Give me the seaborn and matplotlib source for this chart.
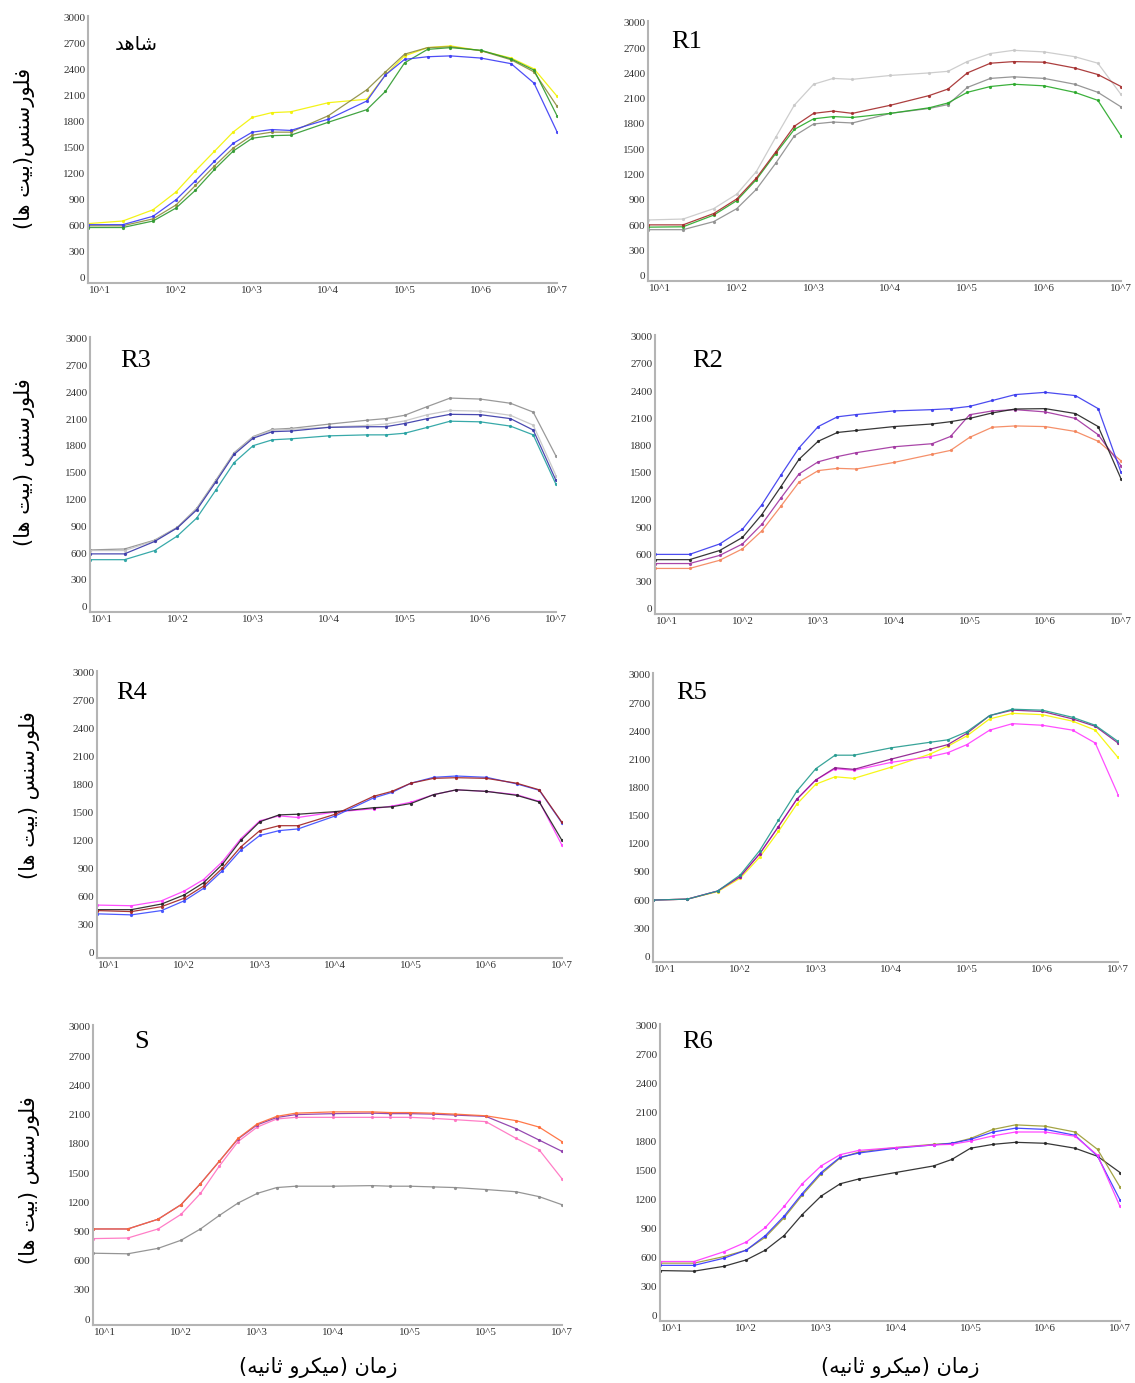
import numpy as np
import pandas as pd
import matplotlib
matplotlib.use("Agg")
import matplotlib.pyplot as plt
import seaborn as sns

# ---------------- data ----------------
time_us = [7, 20, 50, 100, 180, 320, 560, 1000, 1800, 3200, 10000, 32000, 56000,
           100000, 200000, 400000, 1000000, 2500000, 5000000, 10000000]

xtick_vals = [10, 100, 1000, 10000, 100000, 1000000, 10000000]
xtick_labels = ["10^1", "10^2", "10^3", "10^4", "10^5", "10^6", "10^7"]
xtick_labels_S = ["10^1", "10^2", "10^3", "10^4", "10^5", "10^5", "10^7"]
ytick_vals = [0, 300, 600, 900, 1200, 1500, 1800, 2100, 2400, 2700, 3000]

# شاهد
c_yellow = [625, 655, 785, 990, 1234, 1460, 1680, 1850, 1905, 1915, 2020, 2060, 2340, 2560, 2655, 2675, 2620, 2535, 2410, 2095]
c_blue = [613, 613, 710, 900, 1120, 1345, 1550, 1680, 1710, 1700, 1830, 2040, 2340, 2520, 2550, 2560, 2535, 2470, 2245, 1685]
c_green = [580, 580, 655, 805, 1010, 1250, 1460, 1610, 1640, 1645, 1795, 1940, 2150, 2480, 2635, 2655, 2625, 2525, 2395, 1870]
c_olive = [600, 600, 680, 840, 1065, 1290, 1495, 1645, 1680, 1680, 1870, 2170, 2375, 2580, 2655, 2665, 2620, 2515, 2375, 1980]
# R1
r1_lightgray = [663, 674, 797, 969, 1237, 1640, 2022, 2271, 2340, 2329, 2375, 2405, 2424, 2540, 2635, 2673, 2654, 2597, 2520, 2150]
r1_darkred = [605, 605, 739, 912, 1160, 1467, 1773, 1926, 1953, 1926, 2022, 2137, 2214, 2405, 2520, 2539, 2532, 2463, 2386, 2244]
r1_green = [578, 582, 720, 892, 1141, 1448, 1735, 1861, 1888, 1877, 1926, 1992, 2049, 2175, 2244, 2271, 2252, 2175, 2080, 1658]
r1_gray = [548, 548, 643, 797, 1026, 1333, 1658, 1800, 1823, 1812, 1926, 1984, 2030, 2233, 2340, 2359, 2340, 2271, 2175, 2003]
# R3
r3_gray = [635, 646, 745, 890, 1102, 1413, 1723, 1905, 1986, 1997, 2044, 2088, 2106, 2143, 2241, 2336, 2325, 2278, 2179, 1686]
r3_lightgray = [628, 628, 740, 885, 1095, 1405, 1715, 1900, 1975, 1985, 2010, 2030, 2045, 2080, 2150, 2197, 2190, 2143, 2033, 1467]
r3_blue = [591, 591, 730, 883, 1084, 1394, 1705, 1887, 1960, 1967, 2008, 2015, 2015, 2051, 2106, 2154, 2150, 2106, 1978, 1413]
r3_teal = [526, 526, 628, 792, 993, 1303, 1613, 1803, 1869, 1880, 1913, 1924, 1924, 1942, 2008, 2077, 2070, 2022, 1924, 1369]
# R2
r2_blue = [598, 598, 713, 875, 1145, 1469, 1775, 2009, 2117, 2142, 2182, 2196, 2207, 2232, 2297, 2362, 2387, 2351, 2207, 1505]
r2_black = [540, 540, 641, 785, 1037, 1343, 1649, 1847, 1944, 1966, 2009, 2038, 2063, 2099, 2160, 2203, 2207, 2153, 2009, 1433]
r2_purple = [497, 497, 587, 713, 929, 1217, 1487, 1620, 1678, 1721, 1786, 1820, 1900, 2140, 2182, 2196, 2171, 2099, 1919, 1577]
r2_orange = [443, 443, 533, 659, 857, 1127, 1397, 1523, 1548, 1541, 1613, 1703, 1746, 1890, 2002, 2016, 2009, 1955, 1847, 1631]
# R4
r4_magenta = [508, 501, 554, 659, 782, 974, 1220, 1413, 1465, 1448, 1507, 1542, 1570, 1612, 1693, 1745, 1728, 1693, 1620, 1150]
r4_black = [459, 459, 519, 617, 747, 946, 1202, 1402, 1476, 1483, 1511, 1553, 1563, 1598, 1693, 1745, 1728, 1686, 1615, 1202]
r4_darkred = [449, 438, 491, 582, 712, 904, 1132, 1307, 1360, 1360, 1483, 1675, 1728, 1816, 1868, 1875, 1868, 1816, 1745, 1395]
r4_blue = [414, 403, 449, 554, 687, 876, 1097, 1255, 1307, 1325, 1465, 1658, 1717, 1816, 1879, 1893, 1879, 1809, 1740, 1388]
# R5
r5_teal = [600, 610, 696, 868, 1125, 1451, 1760, 2000, 2144, 2144, 2223, 2281, 2308, 2394, 2566, 2634, 2624, 2548, 2463, 2291]
r5_purple = [600, 610, 696, 851, 1091, 1382, 1674, 1880, 2010, 1993, 2103, 2206, 2257, 2377, 2566, 2624, 2610, 2531, 2452, 2274]
r5_yellow = [600, 610, 689, 834, 1056, 1331, 1622, 1835, 1914, 1897, 2017, 2154, 2240, 2350, 2531, 2590, 2576, 2507, 2411, 2120]
r5_magenta = [600, 610, 696, 851, 1091, 1382, 1674, 1880, 2000, 1983, 2068, 2127, 2171, 2257, 2411, 2480, 2463, 2411, 2274, 1725]
# S
s_orange = [926, 926, 1026, 1175, 1391, 1623, 1856, 2005, 2082, 2115, 2128, 2128, 2121, 2121, 2115, 2105, 2088, 2038, 1972, 1823]
s_purple = [926, 926, 1026, 1175, 1391, 1623, 1850, 1995, 2070, 2100, 2110, 2115, 2110, 2110, 2105, 2095, 2082, 1955, 1839, 1723]
s_pink = [827, 833, 926, 1076, 1291, 1574, 1823, 1972, 2055, 2072, 2072, 2072, 2072, 2072, 2062, 2048, 2028, 1856, 1740, 1441]
s_gray = [677, 671, 727, 810, 926, 1066, 1192, 1291, 1351, 1365, 1365, 1371, 1365, 1365, 1358, 1351, 1331, 1308, 1258, 1175]
# R6
r6_magenta = [557, 557, 658, 759, 910, 1128, 1363, 1548, 1665, 1709, 1739, 1766, 1772, 1806, 1860, 1900, 1900, 1856, 1660, 1128]
r6_blue = [517, 517, 591, 675, 826, 1027, 1262, 1480, 1638, 1682, 1732, 1766, 1783, 1823, 1900, 1940, 1927, 1866, 1650, 1195]
r6_olive = [540, 540, 608, 675, 809, 1010, 1245, 1464, 1631, 1692, 1739, 1772, 1783, 1833, 1927, 1974, 1960, 1900, 1720, 1329]
r6_black = [463, 457, 507, 574, 675, 826, 1044, 1235, 1363, 1413, 1480, 1548, 1615, 1732, 1772, 1793, 1783, 1732, 1648, 1480]

titles = ["شاهد", "R1", "R3", "R2", "R4", "R5", "S", "R6"]
ylabel_1 = "فلورسنس(بیت ها)"
ylabel_2 = "فلورسنس (بیت ها)"
xlabel = "زمان (میکرو ثانیه)"

# ---------------- Persian shaping (presentation forms) ----------------
FORMS = {
    "ا": ("\uFE8D", "\uFE8E", None, None),
    "ب": ("\uFE8F", "\uFE90", "\uFE91", "\uFE92"),
    "ت": ("\uFE95", "\uFE96", "\uFE97", "\uFE98"),
    "ث": ("\uFE99", "\uFE9A", "\uFE9B", "\uFE9C"),
    "د": ("\uFEA9", "\uFEAA", None, None),
    "ر": ("\uFEAD", "\uFEAE", None, None),
    "ز": ("\uFEAF", "\uFEB0", None, None),
    "س": ("\uFEB1", "\uFEB2", "\uFEB3", "\uFEB4"),
    "ش": ("\uFEB5", "\uFEB6", "\uFEB7", "\uFEB8"),
    "ف": ("\uFED1", "\uFED2", "\uFED3", "\uFED4"),
    "ل": ("\uFEDD", "\uFEDE", "\uFEDF", "\uFEE0"),
    "م": ("\uFEE1", "\uFEE2", "\uFEE3", "\uFEE4"),
    "ن": ("\uFEE5", "\uFEE6", "\uFEE7", "\uFEE8"),
    "ه": ("\uFEE9", "\uFEEA", "\uFEEB", "\uFEEC"),
    "و": ("\uFEED", "\uFEEE", None, None),
    "ی": ("\uFBFC", "\uFBFD", "\uFBFE", "\uFBFF"),
    "ک": ("\uFB8E", "\uFB8F", "\uFB90", "\uFB91"),
}
MIRROR = {"(": ")", ")": "("}


def shape_fa(s):
    out = []
    for i, ch in enumerate(s):
        if ch not in FORMS:
            out.append(ch)
            continue
        prev = s[i - 1] if i > 0 else None
        nxt = s[i + 1] if i + 1 < len(s) else None
        jp = prev in FORMS and FORMS[prev][2] is not None
        jn = FORMS[ch][2] is not None and nxt in FORMS
        f = FORMS[ch]
        if jp and jn:
            g = f[3]
        elif jp:
            g = f[1]
        elif jn:
            g = f[2]
        else:
            g = f[0]
        out.append(g)
    return "".join(MIRROR.get(c, c) for c in reversed(out))


def is_fa(s):
    return any(c in FORMS for c in s)


# ---------------- figure ----------------
sns.set_theme(style="white")
plt.rcParams["font.family"] = ["Liberation Serif", "DejaVu Sans"]

fig = plt.figure(figsize=(11.35, 13.83), dpi=100)
W, H = 1135, 1383

# (left, right, top, bottom) in pixels
boxes = [(88, 557, 16, 283), (648, 1121, 21, 281),
         (90, 556, 337, 612), (655, 1121, 335, 614),
         (97, 562, 671, 958), (653, 1118, 673, 962),
         (93, 562, 1025, 1325), (660, 1120, 1024, 1321)]

panels = [
    [(c_yellow, "#f2f200"), (c_olive, "#8c8c3c"), (c_green, "#2e9a2e"), (c_blue, "#3a3af5")],
    [(r1_lightgray, "#c8c8c8"), (r1_gray, "#8c8c8c"), (r1_green, "#27a827"), (r1_darkred, "#a32a2a")],
    [(r3_gray, "#8f8f8f"), (r3_lightgray, "#c4c4c4"), (r3_teal, "#22a0a0"), (r3_blue, "#3636a8")],
    [(r2_orange, "#f4845a"), (r2_purple, "#a0329f"), (r2_black, "#222222"), (r2_blue, "#3838ee")],
    [(r4_magenta, "#ff3cff"), (r4_black, "#222222"), (r4_blue, "#3a4aff"), (r4_darkred, "#a02222")],
    [(r5_yellow, "#f5f500"), (r5_magenta, "#ff3cff"), (r5_purple, "#8b1a8b"), (r5_teal, "#239a8e")],
    [(s_gray, "#8a8a8a"), (s_pink, "#ff70c0"), (s_purple, "#8a35a8"), (s_orange, "#ff6a35")],
    [(r6_black, "#222222"), (r6_olive, "#9a9a30"), (r6_blue, "#3535ff"), (r6_magenta, "#ff35ff")],
]

title_pos = [(0.058, 0.895), (0.05, 0.92), (0.064, 0.913), (0.08, 0.907),
             (0.041, 0.923), (0.051, 0.93), (0.087, 0.943), (0.049, 0.939)]

for k, ((l, r, t, b), series) in enumerate(zip(boxes, panels)):
    ax = fig.add_axes([l / W, 1 - b / H, (r - l) / W, (b - t) / H])
    for vals, col in series:
        df = pd.DataFrame({"t": time_us, "f": vals})
        sns.lineplot(data=df, x="t", y="f", ax=ax, color=col, linewidth=0.9,
                     marker="o", markersize=2.3, markeredgewidth=0, alpha=0.9)
    ax.set_xscale("log")
    ax.set_xlim(7, 10000000)
    ax.set_ylim(-60, 3020)
    ax.set_xticks(xtick_vals)
    ax.set_xticklabels(xtick_labels_S if k == 6 else xtick_labels)
    ax.minorticks_off()
    ax.set_yticks(ytick_vals)
    ax.set_yticklabels([str(v) for v in ytick_vals])
    ax.tick_params(axis="both", length=0, pad=2, labelsize=8, colors="#333333")
    for lab in ax.get_xticklabels() + ax.get_yticklabels():
        lab.set_fontfamily("Liberation Serif")
    ax.set_xlabel("")
    ax.set_ylabel("")
    for sp in ["top", "right"]:
        ax.spines[sp].set_visible(False)
    for sp in ["left", "bottom"]:
        ax.spines[sp].set_color("#b4b4b4")
        ax.spines[sp].set_linewidth(1.5)
    tx, ty = title_pos[k]
    if is_fa(titles[k]):
        ax.text(tx, ty, shape_fa(titles[k]), transform=ax.transAxes, ha="left",
                va="center", fontsize=14, family=["DejaVu Sans"], color="black")
    else:
        ax.text(tx, ty, titles[k], transform=ax.transAxes, ha="left",
                va="center", fontsize=19, family=["Liberation Serif"], color="black")

# y labels (left column)
ylab_pos = [(25, 148, ylabel_1), (25, 462, ylabel_2), (30, 795, ylabel_2), (30, 1180, ylabel_2)]
for x, y, txt in ylab_pos:
    fig.text(x / W, 1 - y / H, shape_fa(txt), rotation=90, ha="center", va="center",
             fontsize=15, family=["DejaVu Sans"], color="black")

# x labels (bottom row)
for x in (318, 900):
    fig.text(x / W, 1 - 1368 / H, shape_fa(xlabel), ha="center", va="center",
             fontsize=15, family=["DejaVu Sans"], color="black")

fig.savefig("out.png", dpi=100, facecolor="white")
